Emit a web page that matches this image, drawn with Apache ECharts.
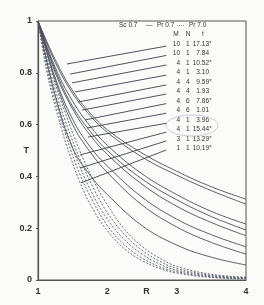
<!DOCTYPE html>
<html><head><meta charset="utf-8">
<script src="https://cdn.jsdelivr.net/npm/echarts@6/dist/echarts.min.js"></script>
<style>html,body{margin:0;padding:0;background:#fbfbfa}#c{width:264px;height:305px}</style>
</head><body><div id="c"></div>
<script>
// Radial positions R
const rSolid = [1, 1.25, 1.5, 1.75, 2, 2.5, 3, 3.5, 4];
// Solid curves (Pr 0.7)
const solid1 = [1, .85, .73, .645, .58, .49, .42, .36, .312];
const solid2 = [1, .84, .72, .635, .57, .475, .405, .345, .293];
const solid3 = [1, .82, .69, .595, .52, .41, .33, .265, .216];
const solid4 = [1, .81, .67, .575, .50, .39, .31, .245, .193];
const solid5 = [1, .80, .66, .56, .485, .37, .285, .222, .171];
const solid6 = [1, .78, .62, .515, .44, .32, .235, .175, .128];
const solid7 = [1, .77, .60, .495, .415, .29, .205, .145, .100];
const solid8 = [1, .71, .51, .405, .33, .21, .135, .088, .058];
// Dashed curves (Pr 7.0)
const rDashed = [1, 1.1, 1.2, 1.3, 1.4, 1.6, 1.8, 2, 2.25, 2.5, 2.75, 3, 3.5, 4];
const dashed1 = [1, .84, .72, .62, .53, .38, .27, .19, .12, .075, .045, .027, .010, .005];
const dashed2 = [1, .86, .74, .645, .56, .41, .30, .21, .135, .085, .052, .032, .012, .006];
const dashed3 = [1, .87, .76, .67, .585, .44, .325, .235, .155, .10, .062, .038, .015, .007];
const dashed4 = [1, .88, .78, .69, .61, .47, .355, .26, .175, .115, .073, .045, .018, .009];
const dashed5 = [1, .89, .80, .715, .64, .50, .385, .29, .195, .13, .085, .053, .022, .011];
// Table rows
const colM = ['10','10','4','4','4','4','4','4','4','4','3','1'];
const colN = ['1','1','1','1','4','4','6','6','1','1','1','1'];
const colT = ['17.13','7.84','10.52','3.10','9.59','1.93','7.86','1.01','3.96','15.44','13.29','10.19'];
const colStar = ['*','','*','','*','','*','','','*','*','*'];
// Leader line start points on curves (R, T) and label-end points (R, T)
const leadFromR = [1.418,1.462,1.490,1.534,1.577,1.635,1.678,1.707,1.721,1.606,1.606,1.620];
const leadFromT = [0.834,0.795,0.761,0.726,0.687,0.656,0.618,0.587,0.552,0.483,0.432,0.375];
const leadToR = [2.85,2.85,2.85,2.85,2.85,2.85,2.85,2.85,2.85,2.85,2.85,2.85];
const leadToT = [0.903,0.867,0.830,0.791,0.753,0.718,0.681,0.644,0.605,0.571,0.537,0.502];
const xTicks = ['1','2','3','4'];
const yTicks = {0:'0',0.2:'0.2',0.4:'0.4',0.6:'0.6',0.8:'0.8',1:'1'};

const pair = (xs, ys) => xs.map((x,i)=>[x, ys[i]]);
const series = [];
[solid1,solid2,solid3,solid4,solid5,solid6,solid7,solid8].forEach(s=>{
  series.push({type:'line', data:pair(rSolid,s), smooth:0.4, symbol:'none',
    lineStyle:{color:'#4a4d58', width:0.9}, z:3});
});
[dashed1,dashed2,dashed3,dashed4,dashed5].forEach(s=>{
  series.push({type:'line', data:pair(rDashed,s), smooth:0.4, symbol:'none',
    lineStyle:{color:'#555a66', width:0.9, type:[2,1.6]}, z:3});
});
leadFromR.forEach((r,i)=>{
  series.push({type:'line', data:[[r,leadFromT[i]],[leadToR[i],leadToT[i]]], symbol:'none',
    lineStyle:{color:'#3c3f4a', width:0.9}, z:4});
});

const font = 'Liberation Sans, Arial, sans-serif';
const graphics = [];
const tx = (text,x,y,align,size,weight) => graphics.push({type:'text', x, y,
  style:{text, fill:'#333', font:(weight||'normal')+' '+size+'px '+font, textAlign:align||'left', textVerticalAlign:'middle'}});
tx('Sc 0.7',119,25,'left',6.5);
tx('\u2014',146,25,'left',6.5);
tx('Pr 0.7',157,25,'left',6.5);
tx('....',177,24,'left',6.5);
tx('Pr 7.0',189,25,'left',6.5);
tx('M',176,34,'center',6.5);
tx('N',188,34,'center',6.5);
tx('t',203,34,'center',6.5);
const rowY0 = 44, rowStep = 9.5;
colM.forEach((m,i)=>{
  const y = rowY0 + i*rowStep;
  tx(m,180,y,'right',6.5);
  tx(colN[i],189.5,y,'right',6.5);
  tx(colT[i],209,y,'right',6.5);
  if (colStar[i]) tx(colStar[i],209.3,y-1,'left',6);
});
graphics.push({type:'ellipse', shape:{cx:192, cy:125.5, rx:26, ry:10.5},
  style:{fill:'none', stroke:'#b8bcc6', lineWidth:0.8}});

const chart = echarts.init(document.getElementById('c'), null, {renderer:'canvas'});
chart.setOption({
  backgroundColor:'#fbfbfa',
  animation:false,
  grid:{left:38, right:18, top:21, bottom:25, show:true, borderColor:'#555', borderWidth:1, backgroundColor:'transparent'},
  xAxis:{type:'value', min:1, max:4, interval:1, name:'R', nameLocation:'middle', nameGap:7, nameMoveOverlap:false,
    nameTextStyle:{color:'#333', fontFamily:font, fontWeight:'bold', fontSize:9, padding:[0,0,0,9]},
    axisLine:{show:true, lineStyle:{color:'#555', width:1.2}},
    axisTick:{show:false},
    axisLabel:{color:'#333', fontFamily:font, fontWeight:'bold', fontSize:9, margin:7, formatter:v=>xTicks[v-1]},
    splitLine:{show:false}},
  yAxis:{type:'value', min:0, max:1, interval:0.2, name:'T', nameLocation:'middle', nameGap:9, nameRotate:0, nameMoveOverlap:false,
    nameTextStyle:{color:'#333', fontFamily:font, fontWeight:'bold', fontSize:9},
    axisLine:{show:true, lineStyle:{color:'#555', width:1.2}},
    axisTick:{show:true, length:2, inside:false, lineStyle:{color:'#555'}},
    axisLabel:{color:'#333', fontFamily:font, fontWeight:'bold', fontSize:9, margin:6,
      formatter:v=>yTicks[Math.round(v*10)/10]},
    splitLine:{show:false}},
  graphic:graphics,
  series:series
});
</script></body></html>
